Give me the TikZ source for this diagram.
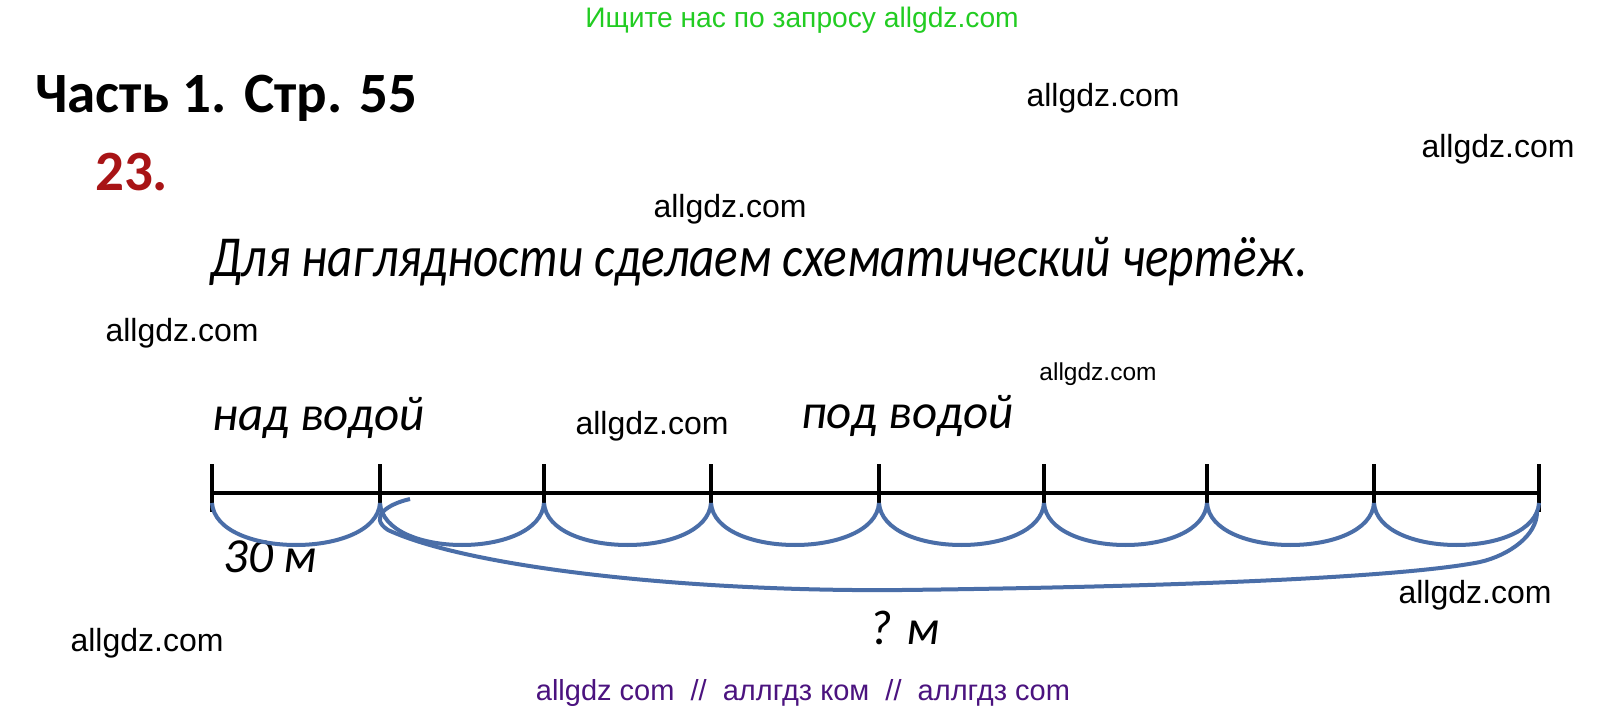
\documentclass[tikz,border=0pt]{standalone}
\usepackage{fontspec}
\usepackage{graphicx}
\setmainfont{Carlito}
\newfontfamily\wmfont{Liberation Sans}
\definecolor{arcblue}{HTML}{4A6EA8}
\definecolor{wmgreen}{HTML}{22CC22}
\definecolor{wmpurple}{HTML}{4B137F}
\definecolor{numred}{HTML}{A81416}
\begin{document}
\begin{tikzpicture}[x=1pt,y=-1pt,
  wm/.style={inner sep=0pt,anchor=base,font=\wmfont\fontsize{32}{36}\selectfont},
  wmsmall/.style={wm,font=\wmfont\fontsize{24.5}{28}\selectfont},
  hand/.style={inner sep=0pt,anchor=base west,font=\itshape\fontsize{49}{54}\selectfont},
  axis/.style={line width=4pt,black},
  tick/.style={line width=3.5pt,black},
  arcline/.style={line width=4pt,arcblue}]
\useasboundingbox (0,0) rectangle (1607,711);
\fill[white] (0,0) rectangle (1607,711);
% headers
\node[inner sep=0pt,anchor=base,text=wmgreen,font=\wmfont\fontsize{28.2}{32}\selectfont] (top) at (802,28) {Ищите нас по запросу allgdz.com};
\node[inner sep=0pt,anchor=base west,font=\bfseries\fontsize{57}{60}\selectfont] (title) at (35,113) {Часть 1. Стр. 55};
\node[inner sep=0pt,anchor=base west,text=numred,font=\bfseries\fontsize{57}{60}\selectfont] (num) at (95,191) {23.};
\node[inner sep=0pt,anchor=base west,font=\itshape\fontsize{58}{62}\selectfont] (head) at (210,277) {\scalebox{0.85}[1]{Для наглядности сделаем схематический чертёж.}};
% watermarks
\node[wm] (w1) at (1103,107) {allgdz.com};
\node[wm] (w2) at (1498,158) {allgdz.com};
\node[wm] (w3) at (730,218) {allgdz.com};
\node[wm] (w4) at (182,342) {allgdz.com};
\node[wmsmall] (w5) at (1098,381) {allgdz.com};
\node[wm] (w6) at (652,434) {allgdz.com};
\node[wm] (w7) at (1475,603) {allgdz.com};
\node[wm] (w8) at (147,651) {allgdz.com};
\node[inner sep=0pt,anchor=base,text=wmpurple,font=\wmfont\fontsize{29}{32}\selectfont] (bottom) at (803,700) {allgdz com\ \ //\ \ аллгдз ком\ \ //\ \ аллгдз com};
% labels
\node[hand] (above) at (212,430) {над водой};
\node[hand] (under) at (801,428) {под водой};
\node[hand] (l30) at (223,572) {30 м};
\node[hand] (lq) at (869,644) {? м};
% axis
\foreach \i/\x in {0/212,1/380,2/544,3/711,4/879,5/1044,6/1207,7/1374,8/1539}{
  \coordinate (t\i) at (\x,493);
  \draw[tick] (\x,464) -- (\x,512);
}
\draw[axis] (t0) -- (t8);
% small arcs
\foreach \i [evaluate=\i as \j using int(\i+1)] in {0,...,7}{
  \draw[arcline] ([yshift=-10pt]t\i) .. controls ([xshift=4pt,yshift=-66pt]t\i) and ([xshift=-4pt,yshift=-66pt]t\j) .. ([yshift=-10pt]t\j);
}
% big arc
\coordinate (bs) at (410,499);
\coordinate (be) at (1537,512);
\draw[arcline] (bs) .. controls (388,504) and (368,517) .. (388,530)
  .. controls (470,568) and (690,592) .. (902,590)
  .. controls (1160,587) and (1400,578) .. (1480,562)
  .. controls (1510,555) and (1537,535) .. (be);
\end{tikzpicture}
\end{document}
